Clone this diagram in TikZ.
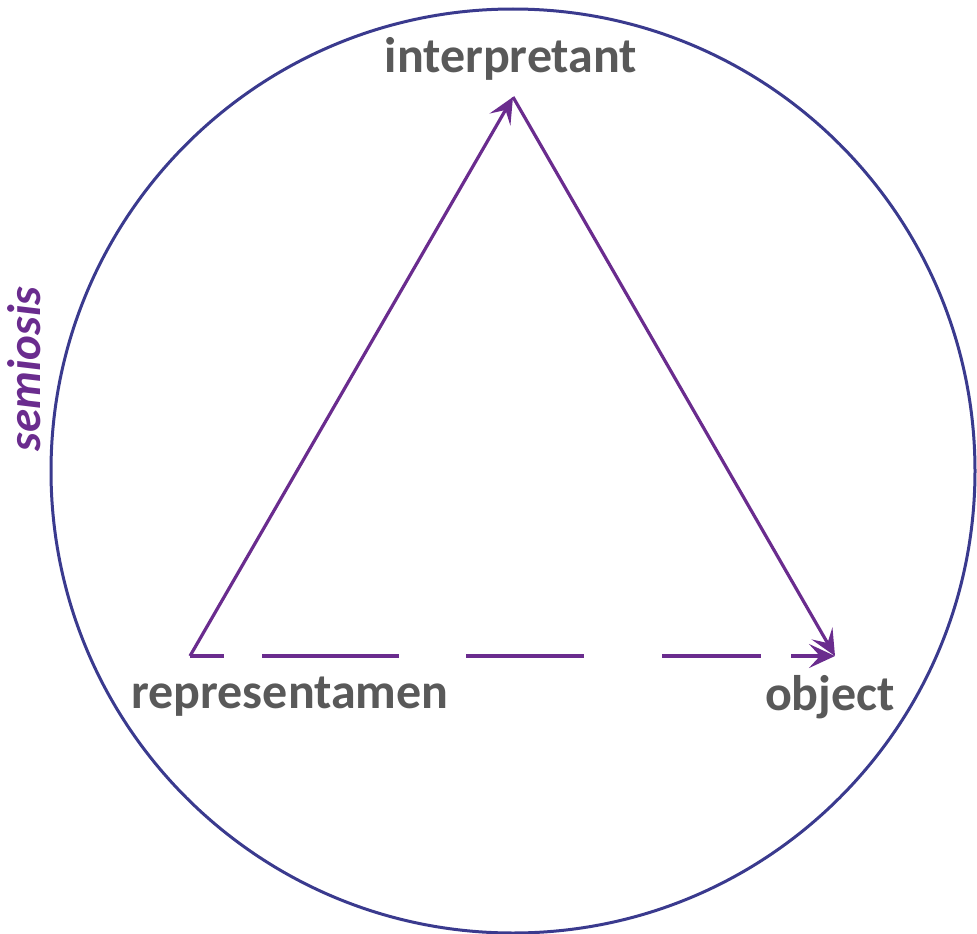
\documentclass[tikz,border=0pt]{standalone}
\usepackage{fontspec}
\setmainfont{Carlito}
\usetikzlibrary{positioning, arrows.meta}
\definecolor{ringblue}{HTML}{3A3A8E}
\definecolor{signpurple}{HTML}{6A2C8E}
\definecolor{labelgray}{HTML}{595959}

\begin{document}
\begin{tikzpicture}[
		x=1pt, y=-1pt,
		>={Stealth[length=26pt, width=24pt, inset=11pt]},
		ring/.style={draw=ringblue, line width=3pt},
		sign/.style={->, draw=signpurple, line width=3.2pt, line join=miter},
		vertex/.style={font=\fontsize{50}{54}\selectfont\bfseries, text=labelgray, inner sep=0pt},
		process/.style={font=\fontsize{47}{51}\selectfont\bfseries\itshape, text=signpurple, inner sep=0pt}
		]
		\useasboundingbox (0,0) rectangle (977,934);
		
		% --- Circle of semiosis ---
		\draw[ring] (513,471) circle[radius=462];
		\node[process, rotate=90] (semiosis) at (24,369) {semiosis};
		
		% --- Corners of the triangle ---
		\coordinate (rep) at (190,656);
		\coordinate (int) at (513,97);
		\coordinate (obj) at (835,656);
		
		\node[vertex] (intlabel) at (511,59) {interpretant};
		\node[vertex] (replabel) at (290,697) {representamen};
		\node[vertex] (objlabel) at (830,697) {object};
		
		% --- Sign relations ---
		\draw[sign] (rep) -- (int);
		\draw[sign] (int) -- (obj);
		\draw[sign, dash pattern=on 34pt off 38pt on 137pt off 67pt on 118pt off 78pt on 99pt off 30pt on 60pt] (rep) -- (obj);
		
	\end{tikzpicture}
\end{document}
